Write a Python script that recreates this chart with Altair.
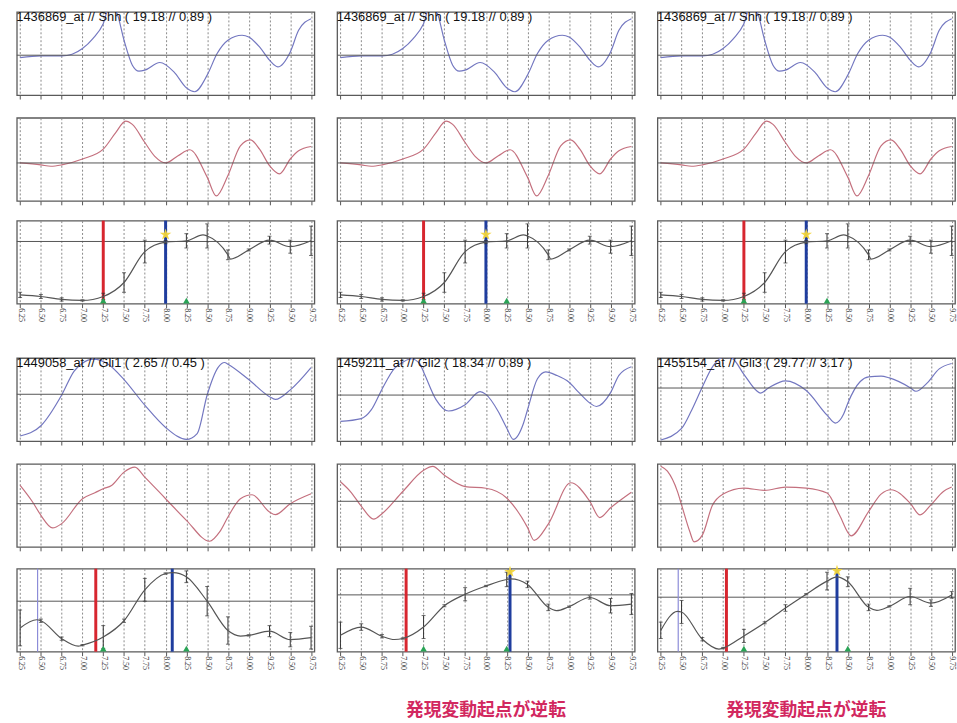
import altair as alt
import pandas as pd

# ---------------- data ----------------
TICKS = [6.25, 6.5, 6.75, 7.0, 7.25, 7.5, 7.75, 8.0, 8.25, 8.5, 8.75, 9.0, 9.25, 9.5, 9.75]

titles = {
    "shh": "1436869_at // Shh ( 19.18 // 0.89 )",
    "gli1": "1449058_at // Gli1 ( 2.65 // 0.45 )",
    "gli2": "1459211_at // Gli2 ( 18.34 // 0.89 )",
    "gli3": "1455154_at // Gli3 ( 29.77 // 3.17 )",
}
jp_note = "発現変動起点が逆転"

# Shh
shh_blue_x = [6.25, 6.5, 6.75, 6.875, 7.0, 7.125, 7.25, 7.33, 7.41, 7.5, 7.6, 7.68, 7.75, 7.93, 8.1, 8.25, 8.35, 8.5, 8.62, 8.75, 8.92, 9.0, 9.13, 9.25, 9.35, 9.5, 9.6, 9.75]
shh_blue_y = [-0.07, -0.02, -0.02, 0.03, 0.2, 0.5, 0.95, 1.5, 1.3, 0.45, -0.3, -0.48, -0.45, -0.22, -0.5, -0.98, -1.1, -0.6, 0.05, 0.45, 0.6, 0.55, 0.25, -0.15, -0.35, 0.1, 0.75, 1.1]
shh_red_x = [6.25, 6.5, 6.62, 6.75, 7.0, 7.25, 7.4, 7.52, 7.6, 7.75, 7.87, 8.0, 8.15, 8.29, 8.5, 8.61, 8.75, 8.9, 9.02, 9.13, 9.25, 9.37, 9.5, 9.6, 9.75]
shh_red_y = [0.0, -0.06, -0.1, -0.06, 0.12, 0.42, 0.92, 1.27, 1.17, 0.62, 0.2, 0.0, 0.22, 0.4, -0.43, -1.0, -0.38, 0.52, 0.7, 0.42, -0.08, -0.33, 0.12, 0.37, 0.5]
shh_black_x = [6.25, 6.5, 6.75, 7.0, 7.25, 7.5, 7.75, 8.0, 8.25, 8.45, 8.5, 8.75, 8.78, 9.0, 9.25, 9.5, 9.75]
shh_black_y = [-1.64, -1.69, -1.78, -1.81, -1.69, -1.26, -0.31, -0.02, 0.02, 0.2, 0.17, -0.41, -0.54, -0.26, 0.04, -0.16, 0.02]
shh_err = [0.08, 0.06, 0.05, 0.02, 0.1, 0.3, 0.35, 0.05, 0.22, 0.37, 0.15, 0.03, 0.12, 0.2, 0.45]

# Gli1
gli1_blue_x = [6.25, 6.5, 6.75, 6.9, 7.0, 7.13, 7.31, 7.5, 7.75, 8.0, 8.25, 8.38, 8.5, 8.63, 8.71, 8.75, 9.0, 9.25, 9.32, 9.5, 9.75]
gli1_blue_y = [-1.22, -0.92, -0.02, 0.68, 0.91, 1.03, 0.88, 0.43, -0.32, -0.97, -1.32, -1.15, -0.02, 0.78, 0.93, 0.88, 0.43, -0.07, -0.15, 0.13, 0.78]
gli1_red_x = [6.25, 6.4, 6.5, 6.64, 6.75, 7.0, 7.15, 7.25, 7.35, 7.5, 7.63, 7.75, 8.0, 8.25, 8.53, 8.65, 8.75, 8.9, 9.04, 9.25, 9.32, 9.5, 9.75]
gli1_red_y = [0.55, 0.05, -0.35, -0.73, -0.6, 0.15, 0.33, 0.45, 0.55, 0.95, 1.1, 0.8, 0.15, -0.5, -1.13, -0.85, -0.4, 0.15, 0.27, -0.25, -0.33, 0.0, 0.3]
gli1_black_x = [6.25, 6.45, 6.5, 6.75, 6.95, 7.0, 7.25, 7.5, 7.75, 8.0, 8.09, 8.25, 8.5, 8.75, 8.9, 9.0, 9.25, 9.5, 9.75]
gli1_black_y = [-0.82, -0.57, -0.6, -1.15, -1.38, -1.35, -1.1, -0.6, 0.35, 0.85, 0.88, 0.75, 0.0, -0.9, -1.07, -1.05, -0.92, -1.18, -1.12]
gli1_err = [0.55, 0.05, 0.05, 0.02, 0.35, 0.05, 0.35, 0.02, 0.18, 0.45, 0.42, 0.02, 0.17, 0.22, 0.35]

# Gli2
gli2_blue_x = [6.25, 6.5, 6.62, 6.75, 6.9, 7.0, 7.1, 7.2, 7.25, 7.4, 7.55, 7.75, 7.93, 8.0, 8.15, 8.25, 8.33, 8.45, 8.5, 8.62, 8.72, 8.85, 9.0, 9.12, 9.25, 9.33, 9.5, 9.6, 9.75]
gli2_blue_y = [-0.76, -0.68, -0.43, 0.17, 0.77, 0.95, 1.05, 0.92, 0.67, -0.13, -0.46, -0.28, 0.1, 0.02, -0.48, -0.95, -1.28, -0.83, -0.43, 0.47, 0.67, 0.57, 0.37, 0.07, -0.23, -0.33, 0.07, 0.57, 0.82]
gli2_red_x = [6.25, 6.37, 6.5, 6.65, 6.75, 7.0, 7.25, 7.36, 7.5, 7.75, 8.0, 8.25, 8.5, 8.58, 8.75, 9.02, 9.25, 9.37, 9.5, 9.75]
gli2_red_y = [0.6, 0.3, -0.15, -0.55, -0.38, 0.3, 0.95, 1.07, 0.8, 0.45, 0.4, 0.1, -0.8, -1.2, -0.7, 0.57, 0.0, -0.5, -0.2, 0.28]
gli2_black_x = [6.25, 6.5, 6.75, 6.9, 7.0, 7.25, 7.5, 7.75, 8.0, 8.25, 8.3, 8.5, 8.75, 8.85, 9.0, 9.25, 9.5, 9.75]
gli2_black_y = [-1.23, -0.98, -1.26, -1.36, -1.33, -0.98, -0.33, 0.02, 0.27, 0.47, 0.49, 0.32, -0.38, -0.48, -0.36, -0.08, -0.33, -0.28]
gli2_err = [0.4, 0.1, 0.05, 0.02, 0.35, 0.03, 0.2, 0.02, 0.22, 0.1, 0.1, 0.02, 0.05, 0.22, 0.32]

# Gli3
gli3_blue_x = [6.25, 6.5, 6.62, 6.75, 6.87, 7.0, 7.1, 7.25, 7.4, 7.45, 7.55, 7.75, 8.0, 8.25, 8.35, 8.45, 8.5, 8.65, 8.75, 8.9, 9.0, 9.25, 9.32, 9.45, 9.6, 9.75]
gli3_blue_y = [-1.44, -1.12, -0.62, 0.03, 0.58, 0.85, 0.83, 0.38, -0.07, -0.14, 0.01, 0.2, -0.07, -0.75, -0.97, -0.72, -0.42, 0.18, 0.31, 0.33, 0.28, 0.01, -0.09, 0.13, 0.53, 0.68]
gli3_red_x = [6.25, 6.33, 6.45, 6.5, 6.6, 6.65, 6.75, 6.87, 7.0, 7.25, 7.5, 7.75, 8.0, 8.25, 8.4, 8.54, 8.75, 8.9, 9.02, 9.25, 9.37, 9.5, 9.65, 9.75]
gli3_red_y = [1.12, 0.97, 0.37, -0.03, -0.83, -1.13, -0.93, -0.05, 0.29, 0.47, 0.4, 0.5, 0.47, 0.32, -0.33, -0.95, -0.23, 0.29, 0.42, 0.02, -0.33, -0.03, 0.37, 0.5]
gli3_black_x = [6.25, 6.45, 6.5, 6.75, 6.95, 7.0, 7.25, 7.5, 7.75, 8.0, 8.25, 8.37, 8.5, 8.75, 8.85, 9.0, 9.25, 9.5, 9.75]
gli3_black_y = [-1.01, -0.43, -0.45, -1.28, -1.58, -1.55, -1.18, -0.78, -0.33, 0.09, 0.49, 0.62, 0.47, -0.31, -0.4, -0.28, 0.02, -0.18, 0.07]
gli3_err = [0.25, 0.35, 0.05, 0.02, 0.2, 0.03, 0.1, 0.02, 0.27, 0.15, 0.1, 0.02, 0.25, 0.1, 0.1]

# y-domains (bottom, top) of each panel
domains = {
    "shh": ([-1.2, 1.3], [-1.15, 1.37], [-1.91, 0.64]),
    "gli1": ([-1.37, 1.06], [-1.3, 1.2], [-1.55, 1.0]),
    "gli2": ([-1.33, 1.07], [-1.4, 1.15], [-1.73, 0.8]),
    "gli3": ([-1.47, 0.83], [-1.28, 1.19], [-1.66, 0.87]),
}

# markers in the bottom panels
red_line = {"shh": 7.25, "gli1": 7.16, "gli2": 7.04, "gli3": 7.04}
blue_line = {"shh": 8.0, "gli1": 8.08, "gli2": 8.29, "gli3": 8.37}
thin_line = {"gli1": 6.46, "gli3": 6.46}
star_x = {"shh": 8.0, "gli2": 8.29, "gli3": 8.37}
star_y = {"shh": 0.21, "gli2": 0.7, "gli3": 0.8}
green_x = {"shh": [7.25, 8.25], "gli1": [7.25, 8.25], "gli2": [7.25, 8.25], "gli3": [7.25, 8.5]}

series = {
    "shh": (shh_blue_x, shh_blue_y, shh_red_x, shh_red_y, shh_black_x, shh_black_y, shh_err),
    "gli1": (gli1_blue_x, gli1_blue_y, gli1_red_x, gli1_red_y, gli1_black_x, gli1_black_y, gli1_err),
    "gli2": (gli2_blue_x, gli2_blue_y, gli2_red_x, gli2_red_y, gli2_black_x, gli2_black_y, gli2_err),
    "gli3": (gli3_blue_x, gli3_blue_y, gli3_red_x, gli3_red_y, gli3_black_x, gli3_black_y, gli3_err),
}

# ---------------- styling ----------------
BLUE_CURVE = "#7377c0"
RED_CURVE = "#c4707e"
BLACK_CURVE = "#555555"
GRID = "#8a8a8a"
ZERO = "#555555"
RED_RULE = "#d7262f"
BLUE_RULE = "#1f3d9e"
THIN_RULE = "#8c8cd8"
STAR = "#f2d53c"
GREEN = "#2aa456"
JP_COLOR = "#d2285f"
STAR_PATH = ("M0,-1L0.2245,-0.309L0.951,-0.309L0.363,0.118L0.588,0.809L0,0.382"
             "L-0.588,0.809L-0.363,0.118L-0.951,-0.309L-0.2245,-0.309Z")

W = 301
H = 84
X_DOMAIN = [6.21, 9.79]


def x_enc(labels):
    return alt.X(
        "x:Q",
        scale=alt.Scale(domain=X_DOMAIN, nice=False, zero=False),
        axis=alt.Axis(
            values=TICKS, grid=True, gridColor=GRID, gridDash=[2, 2], gridWidth=1,
            ticks=True, tickSize=4, tickColor="#555", domain=False,
            labels=labels, labelAngle=90, labelFont="Liberation Serif", labelFontSize=8,
            labelColor="#333", labelPadding=0, format=".2f", title=None,
            labelOverlap=False, labelFlush=False,
        ),
    )


def yq(field, dom):
    return alt.Y(field, scale=alt.Scale(domain=dom, nice=False, zero=False), axis=None)


def zero_layer(dom):
    return alt.Chart(pd.DataFrame({"y": [0.0]})).mark_rule(color=ZERO, strokeWidth=1).encode(
        y=yq("y:Q", dom))


def curve_panel(xs, ys, color, dom, title=None):
    df = pd.DataFrame({"x": xs, "y": ys})
    line = alt.Chart(df).mark_line(color=color, strokeWidth=1.2, interpolate="monotone",
                                   clip=True).encode(x=x_enc(False), y=yq("y:Q", dom))
    ch = alt.layer(line, zero_layer(dom))
    props = dict(width=W, height=H)
    if title:
        props["title"] = alt.TitleParams(title, anchor="start", offset=-12, fontSize=13,
                                         font="Liberation Sans", fontWeight="normal",
                                         color="#111")
    return ch.properties(**props)


def black_panel(key, jp=False):
    bx, by = series[key][4], series[key][5]
    err = series[key][6]
    dom = domains[key][2]
    lookup = dict(zip(bx, by))
    means = [lookup[t] for t in TICKS]
    edf = pd.DataFrame({"x": TICKS, "lo": [m - e for m, e in zip(means, err)],
                        "hi": [m + e for m, e in zip(means, err)], "y": means})
    cdf = pd.DataFrame({"x": bx, "y": by})
    layers = [zero_layer(dom)]
    if key in thin_line:
        layers.append(alt.Chart(pd.DataFrame({"x": [thin_line[key]]})).mark_rule(
            color=THIN_RULE, strokeWidth=1.2).encode(x=x_enc(True)))
    layers.append(alt.Chart(pd.DataFrame({"x": [red_line[key]]})).mark_rule(
        color=RED_RULE, strokeWidth=3).encode(x=x_enc(True)))
    layers.append(alt.Chart(pd.DataFrame({"x": [blue_line[key]]})).mark_rule(
        color=BLUE_RULE, strokeWidth=3).encode(x=x_enc(True)))
    layers.append(alt.Chart(edf).mark_rule(color="#333", strokeWidth=1).encode(
        x=x_enc(True), y=yq("lo:Q", dom), y2="hi:Q"))
    layers.append(alt.Chart(edf).mark_point(shape="stroke", size=16, color="#333",
                                            strokeWidth=1).encode(x=x_enc(True), y=yq("lo:Q", dom)))
    layers.append(alt.Chart(edf).mark_point(shape="stroke", size=16, color="#333",
                                            strokeWidth=1).encode(x=x_enc(True), y=yq("hi:Q", dom)))
    layers.append(alt.Chart(cdf).mark_line(color=BLACK_CURVE, strokeWidth=1.2,
                                           interpolate="monotone", clip=True).encode(
        x=x_enc(True), y=yq("y:Q", dom)))
    if key in star_x:
        layers.append(alt.Chart(pd.DataFrame({"x": [star_x[key]], "y": [star_y[key]]})).mark_point(
            shape=STAR_PATH, filled=True, size=150, color=STAR, opacity=0.95).encode(
            x=x_enc(True), y=yq("y:Q", dom)))
    gdf = pd.DataFrame({"x": green_x[key], "y": [dom[0]] * len(green_x[key])})
    layers.append(alt.Chart(gdf).mark_point(shape="triangle-up", filled=True, size=45,
                                            color=GREEN, opacity=1, yOffset=-3).encode(
        x=x_enc(True), y=yq("y:Q", dom)))
    ch = alt.layer(*layers)
    props = dict(width=W, height=H)
    if jp:
        props["title"] = alt.TitleParams(jp_note, orient="bottom", anchor="middle", offset=33,
                                         fontSize=18, font="Noto Sans CJK JP",
                                         fontWeight="bold", color=JP_COLOR)
    return ch.properties(**props)


def group(keys, jp_flags):
    row1 = alt.hconcat(*[curve_panel(series[k][0], series[k][1], BLUE_CURVE, domains[k][0], titles[k])
                         for k in keys], spacing=19)
    row2 = alt.hconcat(*[curve_panel(series[k][2], series[k][3], RED_CURVE, domains[k][1])
                         for k in keys], spacing=19)
    row3 = alt.hconcat(*[black_panel(k, jp) for k, jp in zip(keys, jp_flags)], spacing=19)
    return alt.vconcat(alt.vconcat(row1, row2, spacing=16), row3, spacing=11)


top = group(["shh", "shh", "shh"], [False, False, False])
bottom = group(["gli1", "gli2", "gli3"], [False, True, True])

chart = alt.vconcat(top, bottom, spacing=34).properties(
    padding={"left": 15, "top": 6, "right": 0, "bottom": 0},
    background="white",
).configure_view(stroke="#5a5a5a", strokeWidth=1.3)

chart.save("out.html", embed_options={"renderer": "svg", "actions": False})
